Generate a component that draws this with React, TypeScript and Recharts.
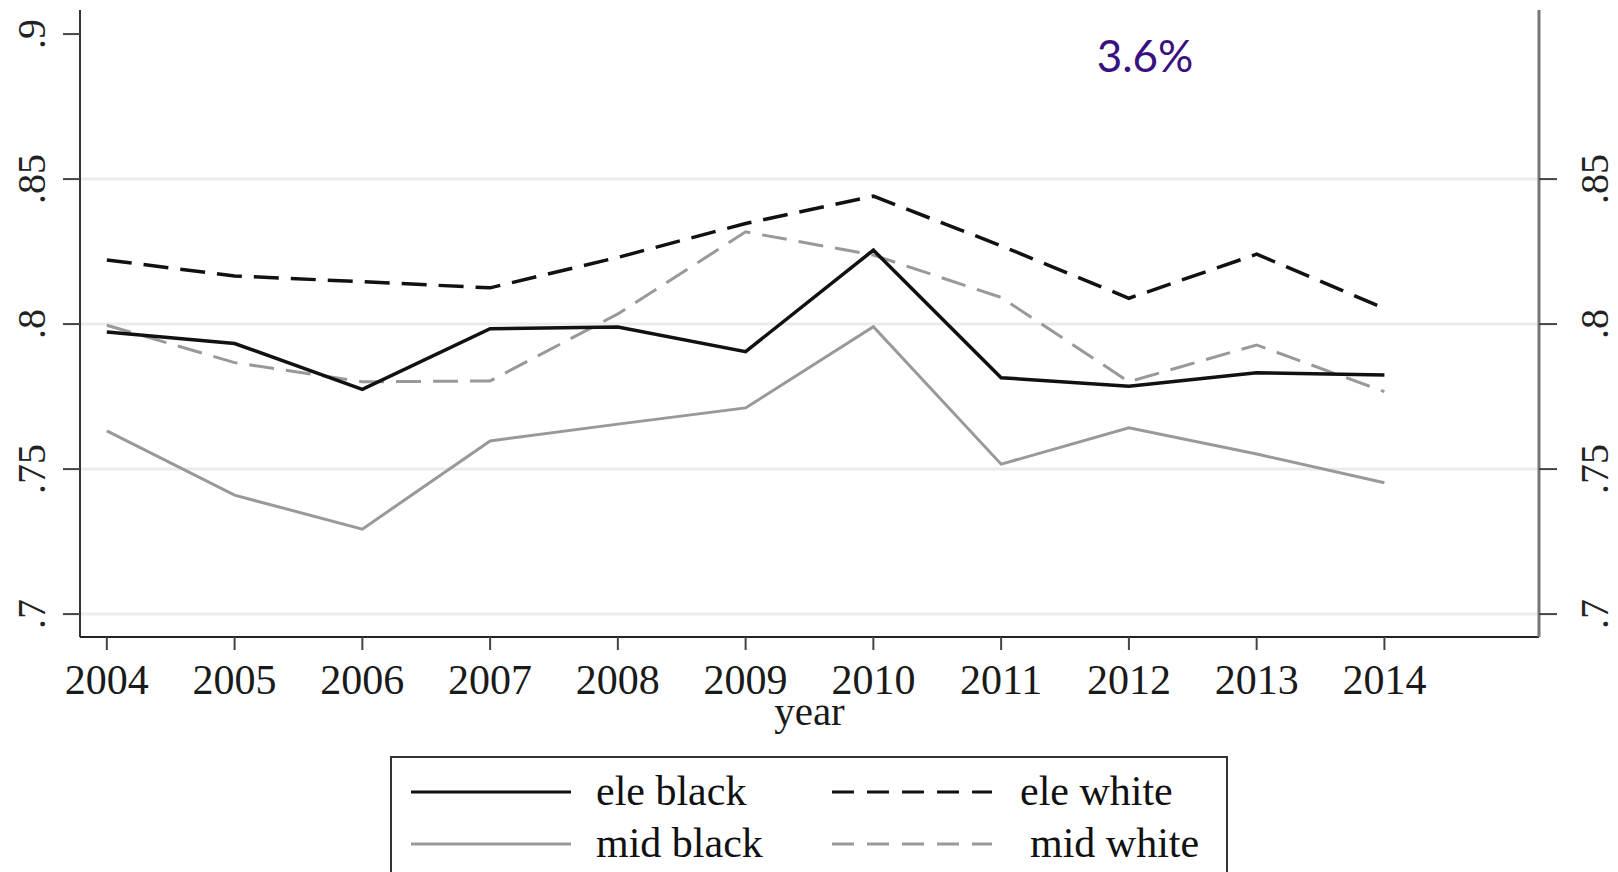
import React from 'react';
import { LineChart, Line, XAxis, YAxis, CartesianGrid } from 'recharts';

const years = [2004, 2005, 2006, 2007, 2008, 2009, 2010, 2011, 2012, 2013, 2014];
const eleBlack = [0.7973, 0.7933, 0.7775, 0.7984, 0.799, 0.7905, 0.8255, 0.7815, 0.7786, 0.7832, 0.7824];
const eleWhite = [0.8221, 0.8166, 0.8146, 0.8125, 0.823, 0.8347, 0.8441, 0.827, 0.8089, 0.8241, 0.8054];
const midBlack = [0.7632, 0.741, 0.7293, 0.7597, 0.7655, 0.7711, 0.7991, 0.7517, 0.7642, 0.7552, 0.7453];
const midWhite = [0.7996, 0.7867, 0.7801, 0.7804, 0.8035, 0.8318, 0.8238, 0.8092, 0.7801, 0.7928, 0.7767];

const leftTicks = [0.7, 0.75, 0.8, 0.85, 0.9];
const rightTicks = [0.7, 0.75, 0.8, 0.85];
const gridValues = [0.7, 0.75, 0.8, 0.85];
const yDomain = [0.6921, 0.9083];
const xDomain = [2003.79, 2015.21];
const annotation = '3.6%';

const data = years.map((year, i) => ({
  year,
  eleBlack: eleBlack[i],
  eleWhite: eleWhite[i],
  midBlack: midBlack[i],
  midWhite: midWhite[i],
}));

const SERIF = '"Liberation Serif", "Times New Roman", serif';
const fmt = (v: number) => String(v).replace(/^0/, '');

const LeftTick = (props: any) => {
  const { x, y, payload } = props;
  return (
    <text
      transform={`translate(${x - 30}, ${y}) rotate(-90)`}
      textAnchor="middle"
      dominantBaseline="central"
      fontFamily={SERIF}
      fontSize={40}
      fill="#222"
    >
      {fmt(payload.value)}
    </text>
  );
};

const RightTick = (props: any) => {
  const { x, y, payload } = props;
  return (
    <text
      transform={`translate(${x + 35}, ${y}) rotate(-90)`}
      textAnchor="middle"
      dominantBaseline="central"
      fontFamily={SERIF}
      fontSize={40}
      fill="#222"
    >
      {fmt(payload.value)}
    </text>
  );
};

const YearTick = (props: any) => {
  const { x, y, payload } = props;
  return (
    <text x={x} y={y + 42} textAnchor="middle" fontFamily={SERIF} fontSize={42} fill="#1a1a1a">
      {payload.value}
    </text>
  );
};

const legendItems = [
  { label: 'ele black', color: '#111', dash: undefined, col: 0, row: 0 },
  { label: 'ele white', color: '#111', dash: '22 13', col: 1, row: 0 },
  { label: 'mid black', color: '#999', dash: undefined, col: 0, row: 1 },
  { label: 'mid white', color: '#999', dash: '22 13', col: 1, row: 1 },
];

const Legend = () => (
  <div
    style={{
      position: 'absolute',
      left: 390,
      top: 756,
      width: 838,
      height: 140,
      border: '2px solid #333',
      boxSizing: 'border-box',
      background: '#fff',
    }}
  >
    <svg width={838} height={140} style={{ position: 'absolute', left: -2, top: -2 }}>
      {legendItems.map((it) => {
        const cy = it.row === 0 ? 36 : 88;
        const x0 = it.col === 0 ? 21 : 442;
        const tx = it.col === 0 ? 206 : it.row === 0 ? 630 : 640;
        return (
          <g key={it.label}>
            <line
              x1={x0}
              x2={x0 + 160}
              y1={cy}
              y2={cy}
              stroke={it.color}
              strokeWidth={3}
              strokeDasharray={it.dash}
            />
            <text x={tx} y={cy + 13} fontFamily={SERIF} fontSize={42} fill="#111">
              {it.label}
            </text>
          </g>
        );
      })}
    </svg>
  </div>
);

export default function App() {
  return (
    <div
      style={{
        position: 'absolute',
        left: 0,
        top: 0,
        width: 1618,
        height: 872,
        overflow: 'hidden',
        background: '#fff',
      }}
    >
      <LineChart width={1618} height={872} data={data} margin={{ top: 10, right: 0, left: 0, bottom: 140 }}>
        <CartesianGrid
          yAxisId="left"
          horizontalValues={gridValues}
          vertical={false}
          stroke="#ebebeb"
          strokeWidth={3}
        />
        <XAxis
          dataKey="year"
          type="number"
          domain={xDomain}
          ticks={years}
          allowDataOverflow
          height={95}
          tickSize={13}
          axisLine={{ stroke: '#222', strokeWidth: 2 }}
          tickLine={{ stroke: '#444', strokeWidth: 2 }}
          tick={<YearTick />}
          label={{
            value: 'year',
            position: 'insideBottom',
            offset: 7,
            style: { fontFamily: SERIF, fontSize: 41, fill: '#1a1a1a' },
          }}
        />
        <YAxis
          yAxisId="left"
          orientation="left"
          width={80}
          domain={yDomain}
          ticks={leftTicks}
          allowDataOverflow
          tickSize={17}
          axisLine={{ stroke: '#333', strokeWidth: 2 }}
          tickLine={{ stroke: '#444', strokeWidth: 2 }}
          tick={<LeftTick />}
        />
        <YAxis
          yAxisId="right"
          orientation="right"
          width={79}
          domain={yDomain}
          ticks={rightTicks}
          allowDataOverflow
          tickSize={18}
          axisLine={{ stroke: '#777', strokeWidth: 3 }}
          tickLine={{ stroke: '#444', strokeWidth: 2 }}
          tick={<RightTick />}
        />
        <Line yAxisId="left" dataKey="midBlack" stroke="#999" strokeWidth={3} dot={false} isAnimationActive={false} />
        <Line yAxisId="left" dataKey="midWhite" stroke="#999" strokeWidth={3} strokeDasharray="25 12" dot={false} isAnimationActive={false} />
        <Line yAxisId="left" dataKey="eleWhite" stroke="#111" strokeWidth={3.5} strokeDasharray="25 12" dot={false} isAnimationActive={false} />
        <Line yAxisId="left" dataKey="eleBlack" stroke="#111" strokeWidth={3.5} dot={false} isAnimationActive={false} />
      </LineChart>
      <div
        style={{
          position: 'absolute',
          left: 1145,
          top: 55,
          transform: 'translate(-50%, -50%)',
          fontFamily: 'Lato, "Open Sans", sans-serif',
          fontSize: 44,
          color: '#3a0f80',
        }}
      >
        {annotation}
      </div>
      <Legend />
    </div>
  );
}
